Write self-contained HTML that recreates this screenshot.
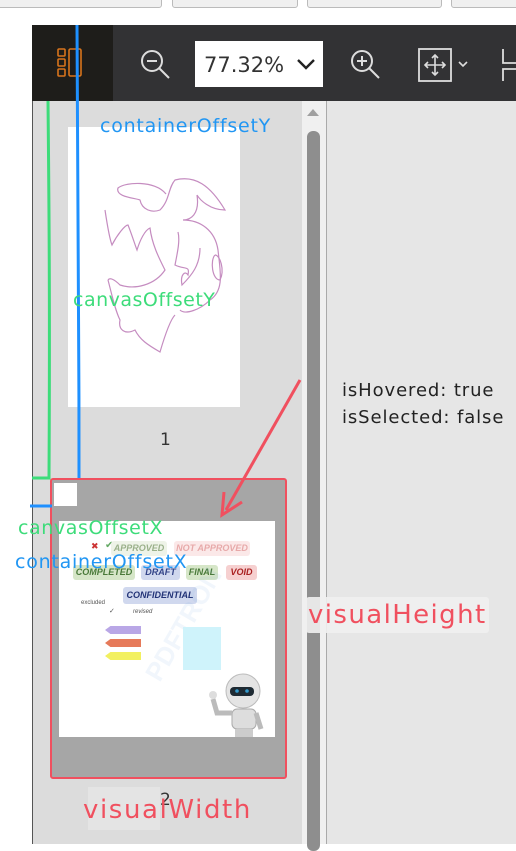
<!DOCTYPE html>
<html><head><meta charset="utf-8">
<style>
*{margin:0;padding:0;box-sizing:border-box}
body{width:516px;height:844px;overflow:hidden;background:#fff;position:relative;font-family:"Liberation Sans",sans-serif}
.a{position:absolute}
.lbl{position:absolute;font-family:"DejaVu Sans","Liberation Sans",sans-serif;white-space:nowrap;line-height:1}
.stamp{position:absolute;font-family:"Liberation Sans",sans-serif;font-weight:bold;font-style:italic;font-size:9px;border-radius:3px;text-align:center;line-height:14px;height:15px}
</style></head><body>
<!-- top buttons -->
<div class="a" style="left:-4px;top:-6px;width:166px;height:14px;border:1px solid #bbb;border-radius:3px;background:#f0f0f0"></div>
<div class="a" style="left:172px;top:-6px;width:126px;height:14px;border:1px solid #bbb;border-radius:3px;background:#f0f0f0"></div>
<div class="a" style="left:307px;top:-6px;width:135px;height:14px;border:1px solid #bbb;border-radius:3px;background:#f0f0f0"></div>
<div class="a" style="left:451px;top:-6px;width:80px;height:14px;border:1px solid #bbb;border-radius:3px;background:#f0f0f0"></div>

<!-- toolbar -->
<div class="a" style="left:32px;top:25px;width:484px;height:76px;background:#323234"></div>
<div class="a" style="left:32px;top:25px;width:81px;height:76px;background:#1e1d1a">
 <svg width="81" height="76" style="position:absolute;left:0;top:0"><g fill="none" stroke="#d8741c" stroke-width="1.6">
 <rect x="26" y="24" width="7" height="7" rx="1"/><rect x="26" y="34" width="7" height="7" rx="1"/><rect x="26" y="44" width="7" height="7" rx="1"/><rect x="37" y="24" width="12" height="27" rx="1.5"/></g></svg>
</div>
<svg class="a" style="left:136px;top:45px" width="40" height="40"><circle cx="16" cy="16" r="10" fill="none" stroke="#ddd" stroke-width="2"/><line x1="11" y1="16" x2="21" y2="16" stroke="#ddd" stroke-width="2"/><line x1="23" y1="23" x2="33" y2="33" stroke="#ddd" stroke-width="2"/></svg>
<div class="a" style="left:195px;top:41px;width:128px;height:46px;background:#fff">
 <span class="a" style="left:9px;top:12px;font-size:21px;color:#333;font-family:'DejaVu Sans',sans-serif">77.32%</span>
 <svg class="a" style="left:101px;top:16px" width="20" height="14"><polyline points="2,3 10,11 18,3" fill="none" stroke="#222" stroke-width="2.4"/></svg>
</div>
<svg class="a" style="left:346px;top:45px" width="40" height="40"><circle cx="16" cy="16" r="10" fill="none" stroke="#ddd" stroke-width="2"/><line x1="11" y1="16" x2="21" y2="16" stroke="#ddd" stroke-width="2"/><line x1="16" y1="11" x2="16" y2="21" stroke="#ddd" stroke-width="2"/><line x1="23" y1="23" x2="33" y2="33" stroke="#ddd" stroke-width="2"/></svg>
<svg class="a" style="left:417px;top:47px" width="54" height="36"><rect x="2" y="2" width="32" height="32" fill="none" stroke="#ddd" stroke-width="1.8"/><g stroke="#ddd" stroke-width="1.6" fill="none"><line x1="18" y1="8" x2="18" y2="28"/><line x1="8" y1="18" x2="28" y2="18"/><polyline points="15,11 18,8 21,11"/><polyline points="15,25 18,28 21,25"/><polyline points="11,15 8,18 11,21"/><polyline points="25,15 28,18 25,21"/><polyline points="42,15 46,19 50,15"/></g></svg>
<svg class="a" style="left:500px;top:47px" width="16" height="36"><polyline points="3,2 3,16 16,16" fill="none" stroke="#ddd" stroke-width="1.8"/><polyline points="3,34 3,22 16,22" fill="none" stroke="#ddd" stroke-width="1.8"/></svg>

<!-- sidebar -->
<div class="a" style="left:32px;top:101px;width:270px;height:743px;background:#dcdcdc;border-left:1px solid #555"></div>
<div class="a" style="left:302px;top:101px;width:24px;height:743px;background:#f0f0f0"></div>
<svg class="a" style="left:305px;top:106px" width="16" height="12"><polygon points="2,10 8,3 14,10" fill="#a0a0a0"/></svg>
<div class="a" style="left:307px;top:131px;width:13px;height:720px;background:#8e8e8e;border-radius:6px"></div>
<div class="a" style="left:326px;top:101px;width:190px;height:743px;background:#e6e6e6;border-left:1px solid #aaa"></div>

<!-- page 1 -->
<div class="a" style="left:68px;top:127px;width:172px;height:280px;background:#fff"></div>
<svg class="a" style="left:60px;top:120px" width="200" height="250"><g fill="none" stroke="#c58cc0" stroke-width="1.2">
<path d="M106,74 C95,60 65,62 58,68 C55,77 75,78 80,80 C82,90 92,93 100,90 C110,80 108,68 115,60 C135,55 150,65 165,90 C150,90 140,80 137,75 C140,95 130,100 123,100 C140,100 155,110 158,130 C160,150 165,170 150,180 C140,190 125,195 120,190"/>
<path d="M45,90 C48,110 50,120 52,125 C57,115 65,105 68,105 C72,115 75,125 77,130 C80,120 85,110 90,108 C92,125 100,140 105,150 C95,165 75,170 60,165 C55,160 50,157 48,160"/>
<path d="M118,112 C120,120 118,130 115,145 C125,150 130,145 128,155 C125,150 120,155 122,165 C132,155 140,145 140,128"/>
<path d="M155,135 C150,140 152,160 160,160 C165,150 160,135 155,135"/>
<path d="M48,160 C52,175 55,190 60,200 C58,210 65,215 75,210 C80,220 88,225 100,232 C105,215 110,200 115,195"/>
</g></svg>
<div class="lbl" style="left:160px;top:432px;font-size:17px;color:#333">1</div>

<!-- page 2 -->
<div class="a" style="left:50px;top:478px;width:237px;height:301px;background:#a6a6a6;border:2.5px solid #f0505f;border-radius:3px"></div>
<div class="a" style="left:59px;top:521px;width:216px;height:216px;background:#fff;overflow:hidden">
 <span class="a" style="left:32px;top:20px;font-size:9px;color:#c33">✖</span>
 <span class="a" style="left:46px;top:19px;font-size:10px;color:#6a6">✔</span>
 <div class="stamp" style="left:52px;top:20px;width:56px;background:#eef3e8;color:#9ab08a">APPROVED</div>
 <div class="stamp" style="left:115px;top:20px;width:76px;background:#fbe8e8;color:#e7a9a9">NOT APPROVED</div>
 <div class="stamp" style="left:14px;top:44px;width:62px;background:#d6e6c8;color:#4a7a3a">COMPLETED</div>
 <div class="stamp" style="left:82px;top:44px;width:39px;background:#d0d8ee;color:#334488">DRAFT</div>
 <div class="stamp" style="left:127px;top:44px;width:32px;background:#d6e6c8;color:#4a7a3a">FINAL</div>
 <div class="stamp" style="left:167px;top:44px;width:31px;background:#f6d0d0;color:#aa2222">VOID</div>
 <div class="stamp" style="left:64px;top:66px;width:74px;background:#d0d8ee;color:#223377;height:17px;line-height:16px">CONFIDENTIAL</div>
 <span class="a" style="left:22px;top:79px;font-size:6px;color:#555">excluded</span>
 <span class="a" style="left:50px;top:86px;font-size:7px;color:#555">✓</span>
 <span class="a" style="left:74px;top:88px;font-size:6px;color:#555;font-style:italic">revised</span>
 <div class="a" style="left:46px;top:105px;width:36px;height:8px;background:#b9a7e6;clip-path:polygon(15% 0,100% 0,100% 100%,15% 100%,0 50%)"></div>
 <div class="a" style="left:46px;top:118px;width:36px;height:8px;background:#e67a5a;clip-path:polygon(15% 0,100% 0,100% 100%,15% 100%,0 50%)"></div>
 <div class="a" style="left:46px;top:131px;width:36px;height:8px;background:#f2f060;clip-path:polygon(15% 0,100% 0,100% 100%,15% 100%,0 50%)"></div>
 <span class="a" style="left:80px;top:150px;font-size:26px;font-weight:bold;color:rgba(120,170,230,0.1);transform:rotate(-60deg);transform-origin:left top">PDFTRON</span>
 <div class="a" style="left:124px;top:106px;width:38px;height:43px;background:#cff3fb"></div>
 <svg class="a" style="left:140px;top:148px" width="76" height="68">
  <circle cx="44" cy="22" r="17" fill="#e4e4e4" stroke="#bbb"/>
  <rect x="31" y="18" width="24" height="9" rx="4" fill="#1e2a33"/>
  <circle cx="38" cy="22" r="1.8" fill="#39c"/><circle cx="48" cy="22" r="1.8" fill="#39c"/>
  <rect x="33" y="40" width="24" height="20" rx="5" fill="#ddd" stroke="#aaa"/>
  <rect x="36" y="60" width="18" height="8" fill="#ccc"/>
  <path d="M33,44 L18,44 L14,30" stroke="#bbb" stroke-width="5" fill="none"/>
  <circle cx="14" cy="26" r="4" fill="#ddd"/>
  <path d="M57,44 L62,60" stroke="#bbb" stroke-width="5" fill="none"/>
 </svg>
</div>
<div class="a" style="left:54px;top:483px;width:23px;height:23px;background:#fff"></div>
<div class="a" style="left:88px;top:787px;width:72px;height:43px;background:#e4e4e4"></div>
<div class="lbl" style="left:160px;top:792px;font-size:17px;color:#333">2</div>

<!-- offset lines -->
<svg class="a" style="left:0;top:0" width="120" height="520">
 <path d="M48,101 C49,200 50,300 49,478 L32,478" fill="none" stroke="#3ddc7a" stroke-width="3"/>
 <path d="M77,25 C78,100 79,300 79,478" fill="none" stroke="#1e90ff" stroke-width="3"/>
 <path d="M30,506 L52,506" fill="none" stroke="#1e90ff" stroke-width="3"/>
</svg>

<!-- labels -->
<div class="lbl" style="left:100px;top:117px;font-size:19px;letter-spacing:0.75px;color:#2196f3">containerOffsetY</div>
<div class="lbl" style="left:73px;top:291px;font-size:19px;letter-spacing:0.5px;color:#3ddc7a">canvasOffsetY</div>
<div class="lbl" style="left:18px;top:519px;font-size:19px;letter-spacing:0.6px;color:#3ddc7a">canvasOffsetX</div>
<div class="lbl" style="left:15px;top:553px;font-size:19px;letter-spacing:0.75px;color:#2196f3">containerOffsetX</div>
<div class="lbl" style="left:306px;top:597px;font-size:26px;letter-spacing:1.4px;color:#f0505f;background:rgba(240,240,240,0.9);padding:5px 2px 5px 2px;border-radius:3px">visualHeight</div>
<div class="lbl" style="left:83px;top:797px;font-size:26px;letter-spacing:1.6px;color:#f0505f">visualWidth</div>

<div class="lbl" style="left:342px;top:377px;font-size:18px;letter-spacing:0.9px;color:#222;line-height:27px">isHovered: true<br>isSelected: false</div>
<svg class="a" style="left:200px;top:370px" width="110" height="160">
 <line x1="100" y1="10" x2="26" y2="140" stroke="#f0505f" stroke-width="3"/>
 <polyline points="24,122 22,145 42,132" fill="none" stroke="#f0505f" stroke-width="3"/>
</svg>
</body></html>
